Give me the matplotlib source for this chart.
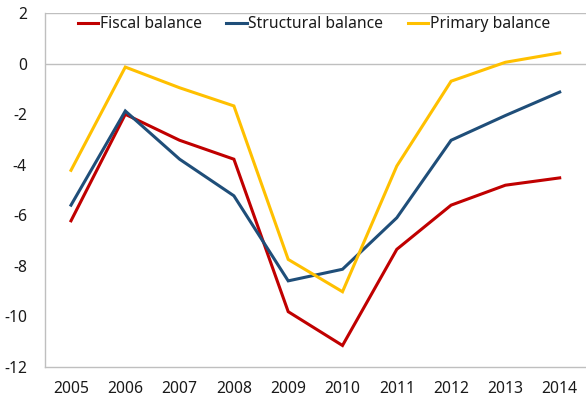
import matplotlib
matplotlib.use("Agg")
import matplotlib.pyplot as plt

years = ["2005", "2006", "2007", "2008", "2009", "2010", "2011", "2012", "2013", "2014"]
fiscal = [-6.22, -2.0, -3.03, -3.78, -9.82, -11.16, -7.35, -5.6, -4.81, -4.52]
structural = [-5.6, -1.87, -3.78, -5.23, -8.6, -8.14, -6.1, -3.03, -2.05, -1.12]
primary = [-4.22, -0.13, -0.95, -1.67, -7.75, -9.03, -4.05, -0.69, 0.06, 0.43]
series_names = ["Fiscal balance", "Structural balance", "Primary balance"]
colors = ["#C00000", "#1F4E79", "#FFC000"]
yticks = [2, 0, -2, -4, -6, -8, -10, -12]

plt.rcParams['font.family'] = ['Noto Sans', 'DejaVu Sans']

W, H = 586, 400
fig = plt.figure(figsize=(W / 100, H / 100), dpi=100)
ax = fig.add_axes([45 / W, (400 - 366.7) / H, 541 / W, (366.7 - 13.3) / H])

x = list(range(len(years)))
for vals, name, c in zip([fiscal, structural, primary], series_names, colors):
    ax.plot(x, vals, color=c, lw=2.2, label=name, solid_joinstyle='miter')

ax.set_ylim(-12, 2)
unit = 54.3
left = -26 / unit
ax.set_xlim(left, left + 541 / unit)
ax.set_xticks(x)
ax.set_xticklabels(years)
ax.set_yticks(yticks)
ax.set_yticklabels([str(t) for t in yticks])

for yv in (2, 0):
    ax.axhline(yv, color="#BFBFBF", lw=1.0, zorder=0)

for s in ("top", "right"):
    ax.spines[s].set_visible(False)
for s in ("left", "bottom"):
    ax.spines[s].set_color("#BFBFBF")
    ax.spines[s].set_linewidth(1.0)

ax.tick_params(axis='both', length=0, labelsize=11.3, colors="#1A1A1A")
ax.tick_params(axis='y', pad=13)
ax.tick_params(axis='x', pad=10)

fig.legend(loc='center left', bbox_to_anchor=(78 / W, 1 - 24 / H), ncol=3, frameon=False,
           fontsize=11.3, handlelength=1.3, handletextpad=0.1, columnspacing=1.55,
           borderpad=0, borderaxespad=0, labelcolor="#1A1A1A")

fig.savefig("out.png", dpi=100)
